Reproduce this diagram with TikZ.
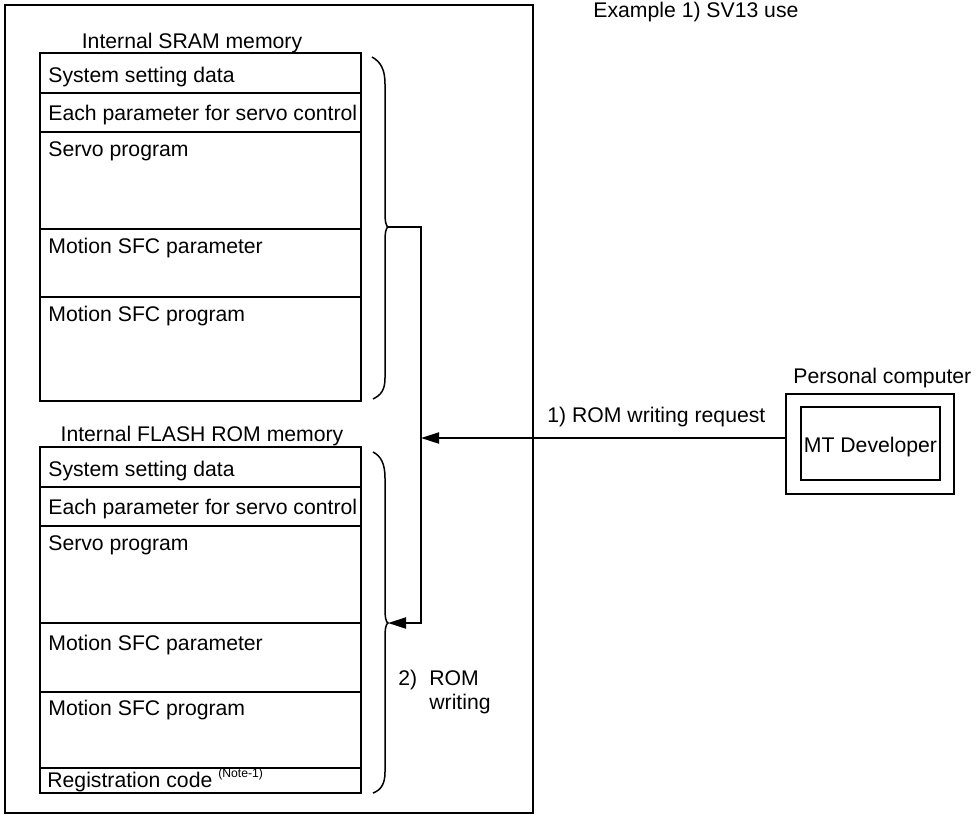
\documentclass[tikz,border=0pt]{standalone}
\usepackage{fontspec}
\setmainfont{Liberation Sans}
\usetikzlibrary{arrows.meta}
\begin{document}
\begin{tikzpicture}[x=0.5pt,y=-0.5pt,
  font=\fontsize{10.6}{12.7}\selectfont,
  memrow/.style={draw, line width=0.6pt, inner sep=0pt, outer sep=0pt,
    anchor=north west, minimum width=160.5pt},
  frame/.style={draw, line width=0.6pt, inner sep=0pt, outer sep=0pt, anchor=north west},
  rowtext/.style={anchor=base west, inner sep=0pt},
  braceline/.style={line width=0.75pt},
  bus/.style={line width=1pt, line join=miter},
  tipped/.style={-{Triangle[length=9pt,width=5.5pt]}}]
\useasboundingbox (0,0) rectangle (977,815);

% outer frame
\node[frame, minimum width=264pt, minimum height=404pt] (outer) at (5,5) {};

% title
\node[rowtext] (title) at (593,17) {Example 1) SV13 use};

% SRAM
\node[anchor=base, inner sep=0pt] (sramlbl) at (192,48) {Internal SRAM memory};
\node[memrow, minimum height=20pt]   (s1) at (40,53) {};
\node[memrow, minimum height=19.5pt] (s2) at (40,93) {};
\node[memrow, minimum height=48.5pt] (s3) at (40,132) {};
\node[memrow, minimum height=34pt]   (s4) at (40,229) {};
\node[memrow, minimum height=52pt]   (s5) at (40,297) {};
\node[rowtext] at ([shift={(8,29)}]s1.north west) {System setting data};
\node[rowtext] at ([shift={(8,27)}]s2.north west) {Each parameter for servo control};
\node[rowtext] at ([shift={(8,24)}]s3.north west) {Servo program};
\node[rowtext] at ([shift={(8,24)}]s4.north west) {Motion SFC parameter};
\node[rowtext] at ([shift={(8,24)}]s5.north west) {Motion SFC program};

% FLASH ROM
\node[anchor=base, inner sep=0pt] (flashlbl) at (202,441) {Internal FLASH ROM memory};
\node[memrow, minimum height=20pt]   (f1) at (40,447) {};
\node[memrow, minimum height=19.5pt] (f2) at (40,487) {};
\node[memrow, minimum height=48.5pt] (f3) at (40,526) {};
\node[memrow, minimum height=34.5pt] (f4) at (40,623) {};
\node[memrow, minimum height=38pt]   (f5) at (40,692) {};
\node[memrow, minimum height=12.5pt] (f6) at (40,768) {};
\node[rowtext] at ([shift={(8,29)}]f1.north west) {System setting data};
\node[rowtext] at ([shift={(8,27)}]f2.north west) {Each parameter for servo control};
\node[rowtext] at ([shift={(8,24)}]f3.north west) {Servo program};
\node[rowtext] at ([shift={(8,27)}]f4.north west) {Motion SFC parameter};
\node[rowtext] at ([shift={(8,23)}]f5.north west) {Motion SFC program};
\node[rowtext] at ([shift={(7,19)}]f6.north west) {Registration code {\fontsize{6.1}{7}\selectfont\raisebox{5pt}{(Note-1)}}};

% braces
\coordinate (bt1) at (388,227);
\coordinate (bt2) at (388,623);
\draw[braceline] (372,57) .. controls (381,62) and (385,70) .. (385,84)
  -- (385,212) .. controls (385,222) and (386,226) .. (bt1)
  .. controls (386,228) and (385,232) .. (385,242)
  -- (385,378) .. controls (385,390) and (381,395) .. (373,399);
\draw[braceline] (373,452) .. controls (381,456) and (385,464) .. (385,478)
  -- (385,608) .. controls (385,618) and (386,622) .. (bt2)
  .. controls (386,624) and (385,628) .. (385,638)
  -- (385,772) .. controls (385,784) and (381,790) .. (373,793);

% bus connector
\coordinate (c1) at (421,227);
\coordinate (c2) at (421,623);
\draw[bus, tipped] (bt1) -- (c1) -- (c2) -- (bt2);

% personal computer
\node[frame, minimum width=84pt, minimum height=50pt] (pc) at (786,394) {};
\node[frame, minimum width=69.5pt, minimum height=36.5pt] (mtd) at (801,407) {};
\node[anchor=base, inner sep=0pt] at ([yshift=-4.5pt]mtd.center) {MT Developer};
\node[rowtext] (pclbl) at (793,383) {Personal computer};

% request arrow
\coordinate (req) at ([yshift=3pt]pc.west);
\draw[bus, tipped] (req) -- (req -| c1);
\node[rowtext] (reqlbl) at (547,422) {1) ROM writing request};

% ROM writing label
\node[rowtext] (n2) at (398,685) {2)};
\node[rowtext] (rom) at (429,685) {ROM};
\node[rowtext] (wr) at (429,709) {writing};
\end{tikzpicture}
\end{document}
